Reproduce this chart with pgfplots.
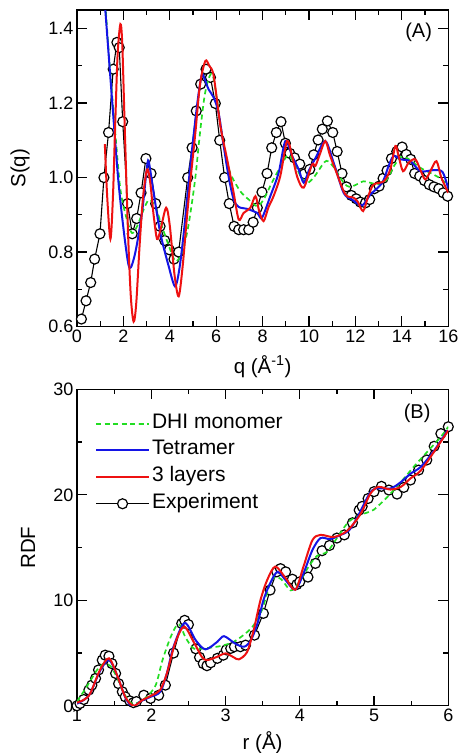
\documentclass[border=0pt]{standalone}
\usepackage{fontspec}
\setmainfont{Liberation Sans}
\usepackage{pgfplots}
\pgfplotsset{compat=1.18}

\definecolor{dhi}{HTML}{22DD22}
\definecolor{tet}{HTML}{1414E6}
\definecolor{lay}{HTML}{EE1111}

\pgfplotsset{
  panel/.style={
    scale only axis, width=371.3pt, height=316.5pt,
    axis line style={line width=1.2pt},
    tick align=inside,
    major tick length=10pt, minor tick length=5pt,
    every tick/.style={black, line width=1.2pt},
    tick label style={font=\fontsize{18}{21}\selectfont},
    label style={font=\fontsize{20.5}{24}\selectfont},
    /pgf/number format/assume math mode=true,
    clip mode=individual,
  },
  expt/.style={black, line width=1.1pt, mark=*, mark size=5pt,
    mark options={fill=white, draw=black, solid, line width=1.2pt}},
  dhiline/.style={dhi, line width=1.7pt, dash pattern=on 5pt off 3.5pt, smooth, tension=0.5},
  tetline/.style={tet, line width=2pt, smooth, tension=0.5},
  layline/.style={lay, line width=2pt, smooth, tension=0.5},
}

\begin{document}
\begin{tikzpicture}
\path[use as bounding box] (0,0) rectangle (461pt,-753pt);

% ---- (A) structure factor
\begin{axis}[panel, at={(77pt,-10pt)}, anchor=north west,
  xmin=0, xmax=16, ymin=0.6, ymax=1.45,
  xtick={0,2,4,6,8,10,12,14,16}, minor x tick num=1,
  ytick={0.6,0.8,1.0,1.2,1.4}, minor y tick num=1,
  yticklabel style={/pgf/number format/.cd,fixed,fixed zerofill,precision=1},
  xlabel={q (Å\textsuperscript{-1})}, ylabel={S(q)},
  xlabel style={at={(axis description cs:0.5,-0.127)}, anchor=center},
  ylabel style={at={(axis description cs:-0.153,0.5)}, anchor=center},
]
\addplot[expt] coordinates {
(0.19,0.620)(0.39,0.669)(0.59,0.718)(0.76,0.781)(0.99,0.849)(1.16,1.0)(1.36,1.121)
(1.56,1.291)(1.72,1.363)(1.82,1.349)(1.97,1.150)(2.18,0.930)(2.38,0.849)(2.57,0.890)
(2.76,0.959)(2.97,1.051)(3.19,1.011)(3.39,0.930)(3.58,0.869)(3.78,0.831)(3.98,0.806)
(4.18,0.781)(4.38,0.800)(4.77,1.0)(4.96,1.080)(5.14,1.179)(5.33,1.251)(5.56,1.291)
(5.75,1.269)(5.96,1.199)(6.15,1.100)(6.36,1.0)(6.56,0.930)(6.77,0.869)(6.97,0.860)
(7.18,0.860)(7.40,0.860)(7.59,0.880)(7.77,0.919)(7.97,0.961)(8.19,1.011)(8.39,1.080)
(8.59,1.121)(8.79,1.150)(8.98,1.092)(9.17,1.065)(9.37,1.053)(9.6,1.036)(9.8,1.01)
(10.03,1.022)(10.2,1.061)(10.39,1.101)(10.57,1.130)(10.79,1.152)(11.02,1.121)(11.21,1.070)
(11.42,1.011)(11.61,0.975)(11.82,0.952)(12.03,0.943)(12.21,0.934)(12.43,0.932)(12.61,0.941)
(12.81,0.970)(13.02,0.977)(13.19,0.998)(13.36,1.019)(13.55,1.051)(13.78,1.07)(14.01,1.082)
(14.19,1.062)(14.38,1.049)(14.55,1.011)(14.77,1.004)(14.97,0.992)(15.18,0.981)(15.38,0.975)
(15.59,0.970)(15.78,0.959)(15.97,0.950)};
\addplot[dhiline] coordinates {
(1.12,1.56)(1.24,1.45)(1.41,1.30)(1.65,1.12)(1.87,0.968)(2.15,0.887)(2.37,0.851)(2.59,0.869)
(2.87,0.914)(3.1,0.94)(3.37,0.923)(3.66,0.869)(4.02,0.806)(4.25,0.775)(4.5,0.795)(4.74,0.851)
(4.9,0.91)(5.1,1.0)(5.3,1.12)(5.5,1.22)(5.7,1.27)(5.85,1.275)(6.03,1.21)(6.32,1.085)(6.6,1.013)
(7.04,0.963)(7.4,0.941)(7.76,0.923)(8.04,0.941)(8.47,0.995)(9.05,1.058)(9.3,1.045)(9.63,1.005)
(9.9,0.985)(10.2,1.0)(10.42,1.02)(10.75,1.045)(11.1,1.025)(11.5,0.985)(11.75,0.975)(12.0,0.98)
(12.35,0.99)(12.64,0.986)(13.0,0.982)(13.36,0.995)(13.65,1.03)(13.95,1.055)(14.2,1.053)
(14.5,1.04)(14.8,1.026)(15.37,1.008)(15.6,1.0)(16,0.98)};
\addplot[tetline] coordinates {
(1.1,1.55)(1.22,1.45)(1.51,1.21)(1.79,0.986)(2.08,0.824)(2.27,0.757)(2.51,0.798)(2.8,0.905)
(3.0,1.02)(3.09,1.043)(3.3,0.96)(3.59,0.851)(3.95,0.762)(4.22,0.708)(4.4,0.75)(4.6,0.851)
(4.88,1.03)(5.17,1.192)(5.3,1.25)(5.39,1.278)(5.5,1.265)(5.67,1.237)(5.89,1.215)(6.1,1.174)
(6.32,1.085)(6.53,1.004)(6.75,0.941)(6.97,0.921)(7.33,0.916)(7.76,0.905)(7.97,0.892)(8.33,0.95)
(8.69,1.013)(8.98,1.098)(9.27,1.058)(9.55,1.022)(9.77,0.986)(9.98,1.017)(10.3,1.055)(10.7,1.098)
(11.06,1.04)(11.49,0.959)(11.85,0.941)(12.28,0.925)(12.64,0.954)(13.15,0.986)(13.45,1.035)
(13.65,1.058)(13.94,1.049)(14.37,1.044)(14.8,1.017)(15.37,1.02)(15.75,1.015)(16,0.97)};
\addplot[layline] coordinates {
(1.2,1.09)(1.3,0.95)(1.44,0.835)(1.55,0.95)(1.65,1.15)(1.75,1.33)(1.87,1.412)(1.95,1.36)
(2.05,1.15)(2.2,0.85)(2.32,0.68)(2.44,0.613)(2.55,0.66)(2.7,0.82)(2.85,0.95)(3.02,1.022)
(3.15,0.99)(3.3,0.9)(3.45,0.835)(3.6,0.86)(3.84,0.919)(4.0,0.87)(4.2,0.74)(4.38,0.681)
(4.55,0.76)(4.74,0.896)(4.9,1.0)(5.1,1.12)(5.3,1.25)(5.53,1.313)(5.7,1.3)(5.89,1.273)
(6.18,1.138)(6.47,1.049)(6.75,0.959)(6.97,0.887)(7.18,0.905)(7.47,0.919)(7.69,0.95)(7.85,0.91)
(8.04,0.883)(8.25,0.92)(8.47,0.95)(8.76,1.004)(9.05,1.098)(9.27,1.058)(9.5,1.0)(9.77,0.973)
(10.13,1.035)(10.27,1.031)(10.45,1.06)(10.7,1.098)(10.9,1.06)(11.13,1.022)(11.56,0.955)
(11.92,0.946)(12.1,0.935)(12.33,0.91)(12.55,0.95)(12.78,0.981)(13.22,0.99)(13.5,1.022)
(13.72,1.085)(13.85,1.06)(14.05,1.017)(14.29,1.04)(14.58,1.049)(14.8,1.02)(15.01,0.995)
(15.25,1.02)(15.49,1.044)(15.7,1.0)(16,0.959)};
\node[font=\fontsize{20}{24}\selectfont] at (axis cs:14.72,1.39) {(A)};
\end{axis}

% ---- (B) radial distribution function
\begin{axis}[panel, at={(77pt,-389.3pt)}, anchor=north west,
  xmin=1, xmax=6, ymin=0, ymax=30,
  xtick={1,2,3,4,5,6}, minor x tick num=1,
  ytick={0,10,20,30}, minor y tick num=1,
  xlabel={r (Å)}, ylabel={RDF},
  xlabel style={at={(axis description cs:0.5,-0.115)}, anchor=center},
  ylabel style={at={(axis description cs:-0.132,0.5)}, anchor=center},
  legend style={at={(axis description cs:0.04,0.93)}, anchor=north west,
    draw=none, fill=none, font=\fontsize{21}{24}\selectfont,
    row sep=6.7pt, nodes={inner sep=2pt, text height=12.5pt, text depth=3.5pt}},
  legend cell align=left,
  legend image code/.code={\draw[mark repeat=2,mark phase=2,#1]
    plot coordinates {(0pt,0pt) (26.5pt,0pt) (53pt,0pt)};},
]
\addplot[expt, forget plot] coordinates {
(1.0,0.0)(1.04,0.22)(1.09,0.6)(1.16,1.5)(1.2,1.96)(1.25,2.6)(1.29,3.4)(1.34,4.33)(1.38,4.8)
(1.43,4.7)(1.47,4.0)(1.52,3.07)(1.56,2.1)(1.61,1.33)(1.65,0.85)(1.71,0.47)(1.76,0.3)(1.8,0.4)
(1.9,1.0)(1.99,0.7)(2.1,1.0)(2.19,1.96)(2.3,5.0)(2.41,7.8)(2.45,8.1)(2.5,7.7)(2.6,5.4)
(2.65,4.6)(2.7,4.0)(2.75,3.8)(2.8,4.08)(2.89,4.5)(2.97,4.8)(3.01,5.3)(3.07,5.44)(3.12,5.6)
(3.2,5.6)(3.27,5.75)(3.39,6.7)(3.51,8.76)(3.6,10.97)(3.69,12.7)(3.74,13.0)(3.81,12.7)(3.9,12.0)
(3.96,11.5)(4.0,11.75)(4.11,12.2)(4.21,13.5)(4.3,14.7)(4.4,15.2)(4.5,15.9)(4.6,16.2)(4.71,17.35)
(4.8,18.55)(4.84,18.9)(4.92,19.65)(5.0,20.3)(5.1,20.8)(5.2,20.45)(5.31,20.07)(5.4,20.7)
(5.49,21.4)(5.6,22.34)(5.71,23.3)(5.81,24.6)(5.9,25.8)(6.0,26.45)};
\addplot[dhiline] coordinates {
(1.0,0.4)(1.13,1.8)(1.27,3.4)(1.36,4.0)(1.42,3.9)(1.47,3.6)(1.55,2.5)(1.63,1.2)(1.74,0.2)
(1.85,0.4)(1.94,0.85)(2.06,1.96)(2.15,4.3)(2.26,6.5)(2.35,7.7)(2.4,7.5)(2.46,6.5)(2.57,5.44)
(2.71,5.44)(2.93,5.66)(3.11,6.07)(3.27,6.86)(3.38,7.65)(3.49,9.07)(3.6,11.6)(3.67,12.2)
(3.75,12.0)(3.85,11.1)(3.9,10.97)(4.01,11.9)(4.12,13.2)(4.23,14.2)(4.37,14.6)(4.5,15.9)
(4.64,17.3)(4.75,17.9)(4.9,18.3)(5.0,18.6)(5.18,19.8)(5.36,21.2)(5.54,22.7)(5.72,24.1)
(5.9,25.5)(6.0,26.45)};
\addlegendentry{DHI monomer}
\addplot[tetline] coordinates {
(1.0,0.2)(1.1,0.6)(1.18,1.2)(1.31,3.3)(1.43,4.35)(1.54,2.9)(1.65,0.8)(1.75,-0.1)(1.85,0.4)
(1.99,0.85)(2.12,1.33)(2.21,3.07)(2.3,5.6)(2.45,7.85)(2.6,6.2)(2.73,5.35)(2.89,6.07)(2.98,6.6)
(3.13,5.9)(3.25,5.6)(3.34,6.2)(3.43,7.8)(3.51,10.0)(3.6,11.6)(3.7,12.7)(3.81,11.9)(3.94,11.0)
(4.05,12.55)(4.17,14.76)(4.28,15.9)(4.41,15.8)(4.55,16.2)(4.66,16.6)(4.77,17.8)(4.93,20.0)
(5.02,20.6)(5.22,20.6)(5.36,21.2)(5.49,22.0)(5.63,22.65)(5.81,24.2)(5.99,26.1)};
\addlegendentry{Tetramer}
\addplot[layline] coordinates {
(1.0,0.3)(1.1,0.6)(1.18,1.2)(1.31,3.4)(1.43,4.5)(1.54,2.9)(1.65,0.85)(1.76,0.0)(1.88,0.54)
(2.01,1.0)(2.12,1.5)(2.21,3.07)(2.32,5.9)(2.44,7.5)(2.57,6.07)(2.68,4.65)(2.75,4.33)(2.89,4.65)
(3.0,4.97)(3.11,4.6)(3.18,4.4)(3.29,5.1)(3.38,7.2)(3.47,10.0)(3.56,11.9)(3.67,13.2)(3.81,12.1)
(3.94,11.0)(4.05,13.2)(4.17,15.7)(4.28,16.2)(4.46,16.0)(4.64,16.6)(4.82,18.2)(4.95,20.1)
(5.06,20.75)(5.22,20.5)(5.36,20.75)(5.49,21.55)(5.63,22.3)(5.81,24.1)(6.0,26.1)};
\addlegendentry{3 layers}
\addlegendimage{expt}
\addlegendentry{Experiment}
\node[font=\fontsize{20}{24}\selectfont] at (axis cs:5.58,27.7) {(B)};
\end{axis}
\end{tikzpicture}
\end{document}
